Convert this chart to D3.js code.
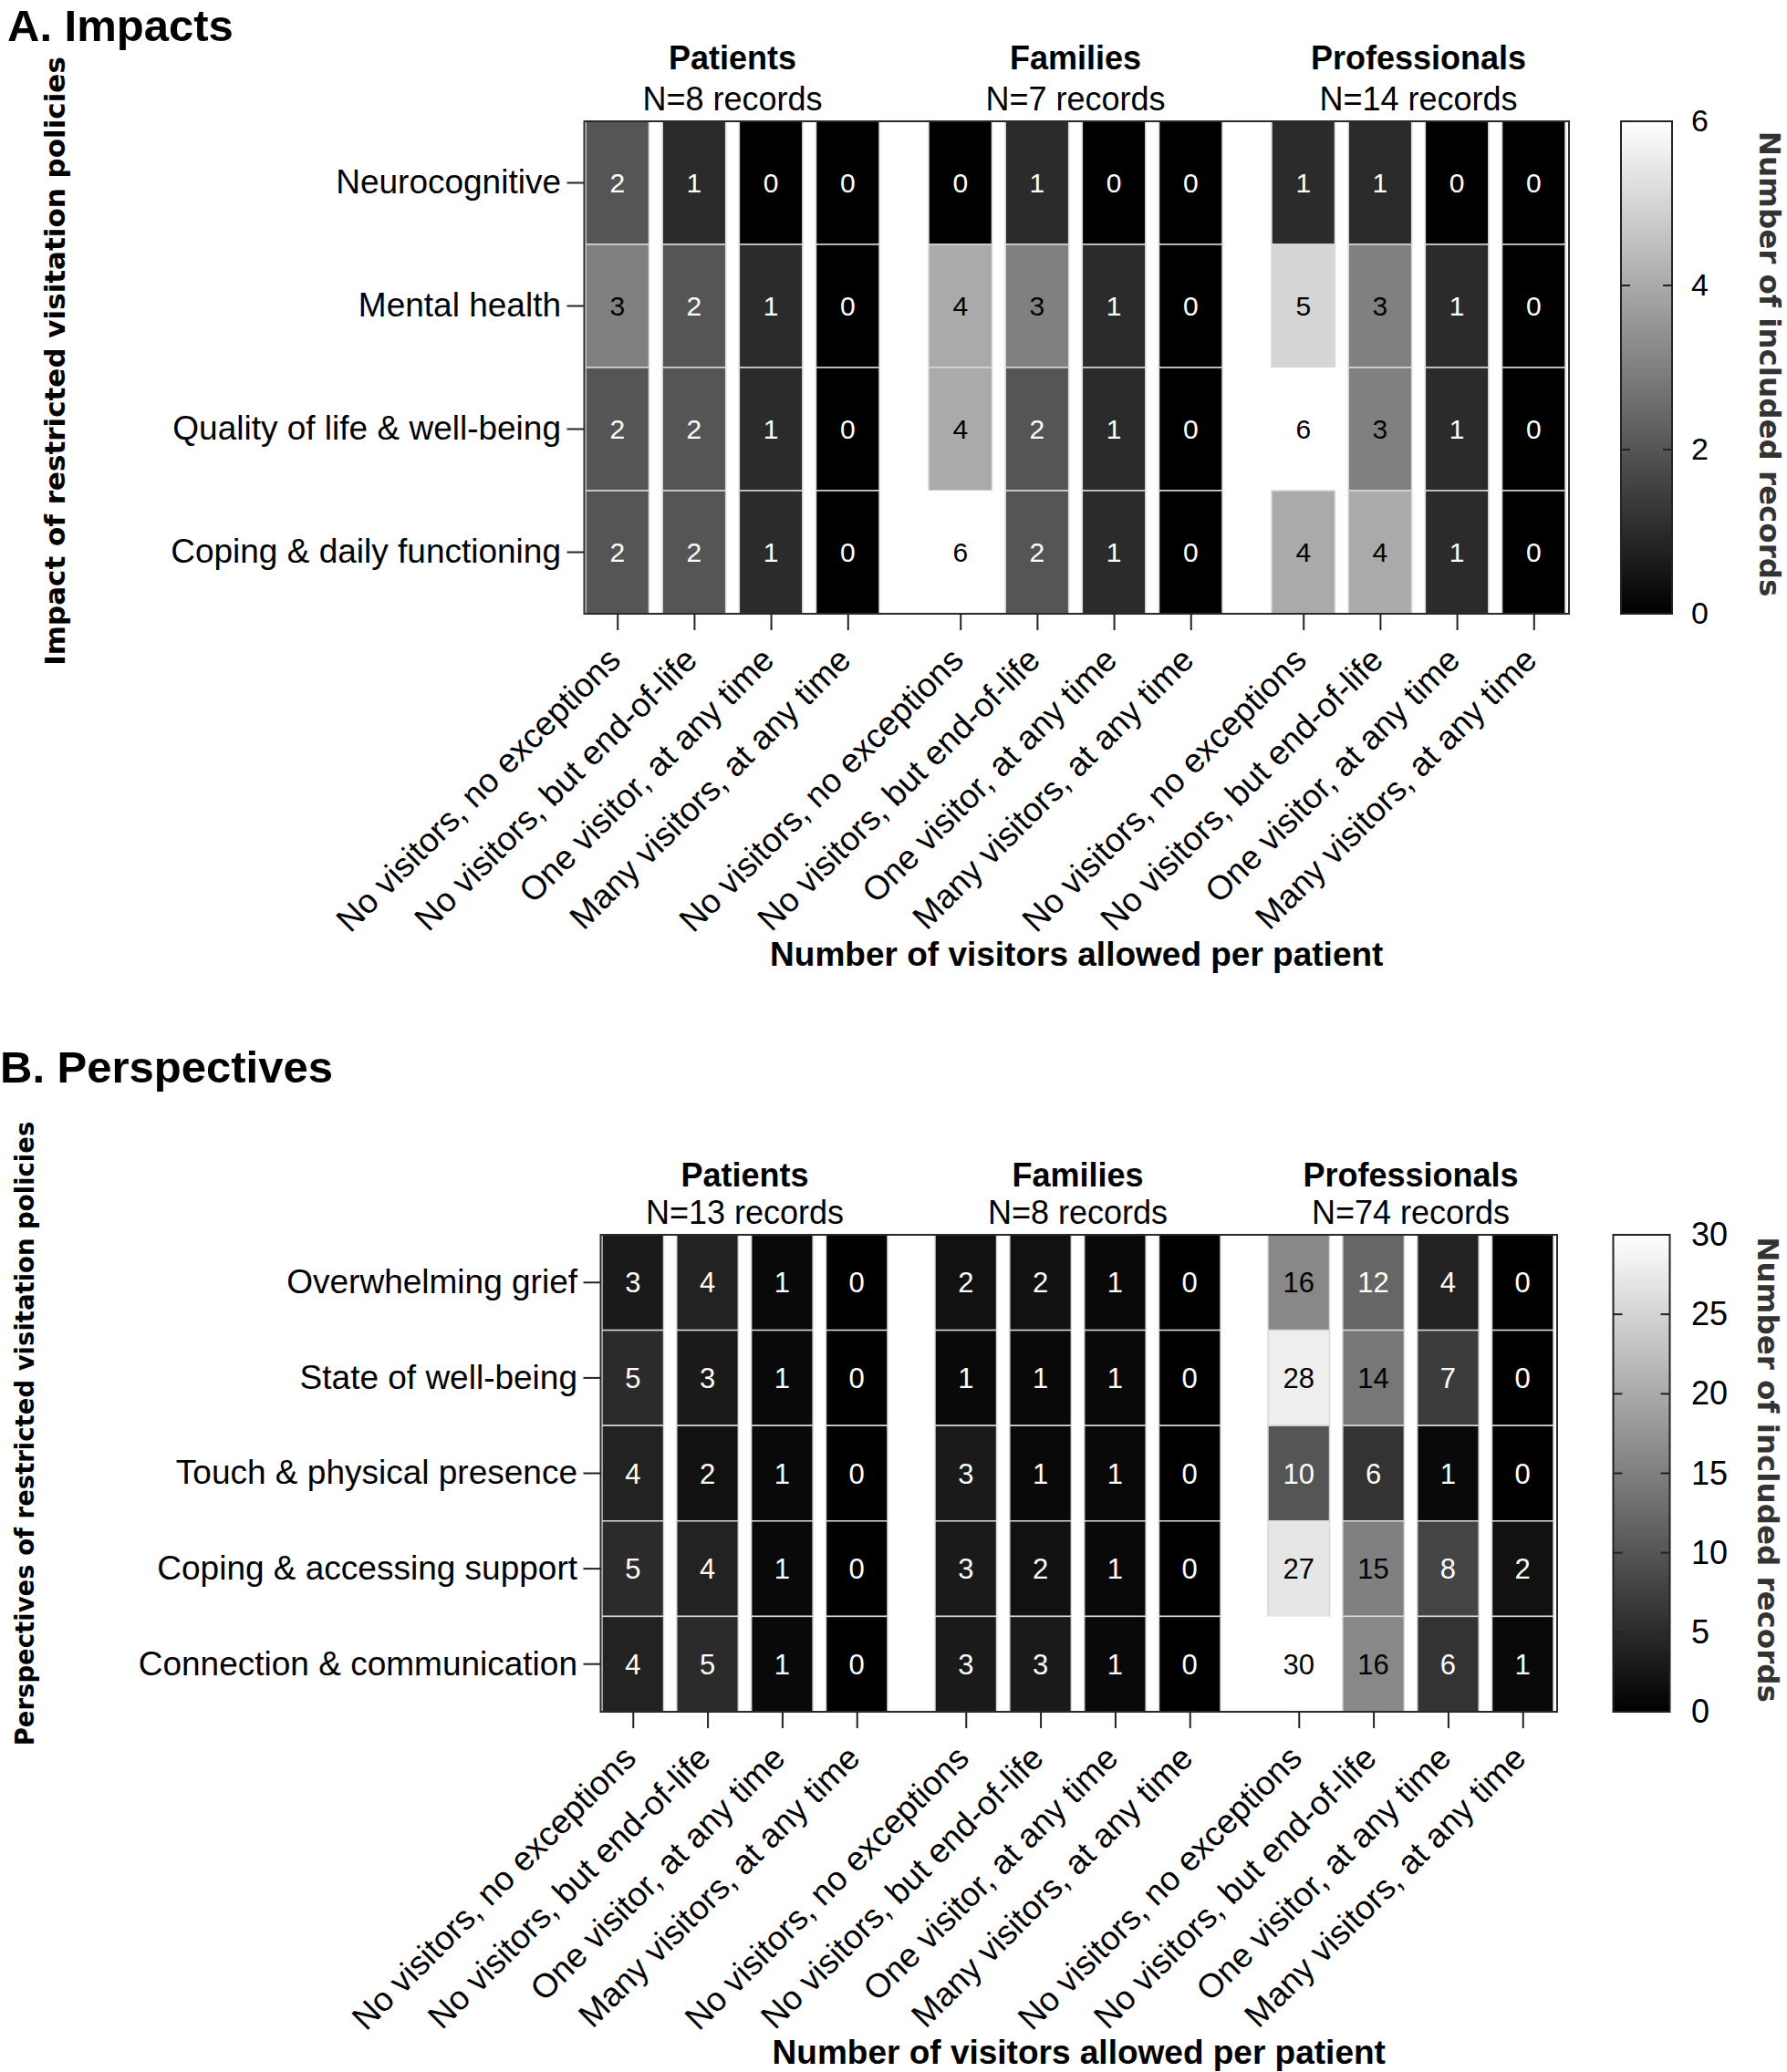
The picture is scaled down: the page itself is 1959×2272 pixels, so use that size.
<!DOCTYPE html>
<html>
<head>
<meta charset="utf-8">
<script src="https://cdn.jsdelivr.net/npm/d3@7"></script>
<style>
  body { margin: 0; background: #fff; }
  text { font-family: "Liberation Sans", Arial, sans-serif; }
</style>
</head>
<body>
<svg id="chart" width="1959" height="2272"></svg>
<script>

// groups and visitor policies (shared by both panels)
const groups = ["Patients", "Families", "Professionals"];
const visitorCats = ["No visitors, no exceptions", "No visitors, but end-of-life",
                     "One visitor, at any time", "Many visitors, at any time"];

// A. Impacts
const impactRows = ["Neurocognitive", "Mental health", "Quality of life & well-being", "Coping & daily functioning"];
const impactRecords = [8, 7, 14];
const impactPatients      = [[2, 1, 0, 0], [3, 2, 1, 0], [2, 2, 1, 0], [2, 2, 1, 0]];
const impactFamilies      = [[0, 1, 0, 0], [4, 3, 1, 0], [4, 2, 1, 0], [6, 2, 1, 0]];
const impactProfessionals = [[1, 1, 0, 0], [5, 3, 1, 0], [6, 3, 1, 0], [4, 4, 1, 0]];
const impactTicks = [0, 2, 4, 6];

// B. Perspectives
const perspRows = ["Overwhelming grief", "State of well-being", "Touch & physical presence",
                   "Coping & accessing support", "Connection & communication"];
const perspRecords = [13, 8, 74];
const perspPatients      = [[3, 4, 1, 0], [5, 3, 1, 0], [4, 2, 1, 0], [5, 4, 1, 0], [4, 5, 1, 0]];
const perspFamilies      = [[2, 2, 1, 0], [1, 1, 1, 0], [3, 1, 1, 0], [3, 2, 1, 0], [3, 3, 1, 0]];
const perspProfessionals = [[16, 12, 4, 0], [28, 14, 7, 0], [10, 6, 1, 0], [27, 15, 8, 2], [30, 16, 6, 1]];
const perspTicks = [0, 5, 10, 15, 20, 25, 30];

const svg = d3.select("#chart");
const titleFont = '"DejaVu Sans", Verdana, sans-serif';

// gradient for the colour bars
const defs = svg.append("defs");
const grad = defs.append("linearGradient").attr("id", "greyGrad")
    .attr("x1", 0).attr("y1", 1).attr("x2", 0).attr("y2", 0);
grad.append("stop").attr("offset", "0%").attr("stop-color", "#000");
grad.append("stop").attr("offset", "100%").attr("stop-color", "#fff");

function drawPanel(p) {
  const g = svg.append("g");

  const outer = d3.scaleBand().domain(groups).range([p.x0, p.x1]).paddingInner(p.groupPad);
  const inner = d3.scaleBand().domain(visitorCats).range([0, outer.bandwidth()]).paddingInner(0.175);
  const y = d3.scaleBand().domain(p.rows).range([p.top, p.bottom]);
  const color = d3.scaleLinear().domain([0, p.max]).range(["#000", "#fff"]);

  // flat list of cells
  let cells = [];
  groups.forEach((grp, gi) => {
    p.values[gi].forEach((row, ri) => {
      row.forEach((v, ci) => {
        cells.push({grp: grp, row: p.rows[ri], cat: visitorCats[ci], v: v});
      });
    });
  });
  const cx = d => outer(d.grp) + inner(d.cat);

  g.selectAll(".cell")
    .data(cells)
    .enter()
    .append("rect")
      .attr("x", cx)
      .attr("y", d => y(d.row))
      .attr("width", inner.bandwidth())
      .attr("height", y.bandwidth())
      .style("fill", d => color(d.v))
      .style("stroke", d => d.v === p.max ? "none" : "#d8d8d8")
      .style("stroke-width", 1.5);

  g.selectAll(".val")
    .data(cells)
    .enter()
    .append("text")
      .attr("x", d => cx(d) + inner.bandwidth() / 2)
      .attr("y", d => y(d.row) + y.bandwidth() / 2)
      .attr("dy", "0.36em")
      .attr("text-anchor", "middle")
      .attr("font-size", p.valSize)
      .style("fill", d => d.v / p.max > 0.45 ? "#000" : "#fff")
      .text(d => d.v);

  // frame
  g.append("rect")
      .attr("x", p.boxL).attr("y", p.top)
      .attr("width", p.boxR - p.boxL).attr("height", p.bottom - p.top)
      .style("fill", "none").style("stroke", "#2a2a2a").style("stroke-width", 2);

  // y axis
  const gY = g.append("g")
      .attr("transform", "translate(" + p.boxL + ",0)")
      .call(d3.axisLeft(y).tickSize(19).tickPadding(6.5));
  gY.select(".domain").remove();
  gY.selectAll("line").style("stroke", "#222").style("stroke-width", 2);
  gY.selectAll("text").attr("font-size", 37).attr("fill", "#000")
      .style("font-family", '"Liberation Sans", Arial, sans-serif');

  // x axis, one tick per group/policy column
  const keys = [];
  groups.forEach(grp => visitorCats.forEach(cat => keys.push(grp + "|" + cat)));
  const xKey = d3.scaleOrdinal()
      .domain(keys)
      .range(keys.map(k => { const s = k.split("|"); return outer(s[0]) + inner(s[1]) + inner.bandwidth() / 2; }));
  const gX = g.append("g")
      .attr("transform", "translate(0," + p.bottom + ")")
      .call(d3.axisBottom(xKey).tickSize(18).tickFormat(k => k.split("|")[1]));
  gX.select(".domain").remove();
  gX.selectAll("line").style("stroke", "#222").style("stroke-width", 2);
  gX.selectAll("text")
      .attr("x", 0).attr("y", 0).attr("dy", 0)
      .attr("text-anchor", "end")
      .attr("transform", "translate(5,53) rotate(-45)")
      .attr("font-size", 37).attr("fill", "#000")
      .style("font-family", '"Liberation Sans", Arial, sans-serif');

  // group headers
  g.selectAll(".grpName")
    .data(groups)
    .enter()
    .append("text")
      .attr("x", d => outer(d) + outer.bandwidth() / 2)
      .attr("y", p.headY1)
      .attr("text-anchor", "middle")
      .attr("font-size", 36)
      .attr("font-weight", "bold")
      .text(d => d);
  g.selectAll(".grpN")
    .data(groups)
    .enter()
    .append("text")
      .attr("x", d => outer(d) + outer.bandwidth() / 2)
      .attr("y", p.headY2)
      .attr("text-anchor", "middle")
      .attr("font-size", 36)
      .text((d, i) => "N=" + p.records[i] + " records");

  // panel title
  g.append("text")
      .attr("x", p.titleX).attr("y", p.titleY)
      .attr("font-size", 49).attr("font-weight", "bold")
      .text(p.title);

  // axis titles
  g.append("text")
      .attr("transform", "translate(" + ((p.boxL + p.boxR) / 2) + "," + (p.bottom + 386) + ")")
      .attr("text-anchor", "middle")
      .attr("font-size", 37).attr("font-weight", "bold")
      .text("Number of visitors allowed per patient");

  g.append("text")
      .attr("transform", "translate(" + p.yTitleX + "," + p.yTitleY + ") rotate(-90)")
      .attr("text-anchor", "middle")
      .attr("font-size", p.yTitleSize).attr("font-weight", "bold")
      .style("font-family", titleFont)
      .text(p.yTitle);

  // colour bar
  const cb = d3.scaleLinear().domain([0, p.max]).range([p.bottom, p.top]);
  g.append("rect")
      .attr("x", p.cbX).attr("y", p.top)
      .attr("width", p.cbW).attr("height", p.bottom - p.top)
      .style("fill", "url(#greyGrad)")
      .style("stroke", "#222").style("stroke-width", 2);

  const innerTicks = p.ticks.slice(1, -1);
  g.selectAll(".cbTickL")
    .data(innerTicks)
    .enter()
    .append("line")
      .attr("x1", p.cbX).attr("x2", p.cbX + 10)
      .attr("y1", d => cb(d)).attr("y2", d => cb(d))
      .style("stroke", "#222").style("stroke-width", 2);
  g.selectAll(".cbTickR")
    .data(innerTicks)
    .enter()
    .append("line")
      .attr("x1", p.cbX + p.cbW - 10).attr("x2", p.cbX + p.cbW)
      .attr("y1", d => cb(d)).attr("y2", d => cb(d))
      .style("stroke", "#222").style("stroke-width", 2);

  const gC = g.append("g")
      .attr("transform", "translate(" + (p.cbX + p.cbW) + ",0)")
      .call(d3.axisRight(cb).tickValues(p.ticks).tickFormat(d3.format("d"))
              .tickSize(0).tickPadding(1854 - p.cbX - p.cbW));
  gC.select(".domain").remove();
  gC.selectAll("text").attr("font-size", p.cbLabelSize).attr("fill", "#000")
      .style("font-family", '"Liberation Sans", Arial, sans-serif');

  g.append("text")
      .attr("transform", "translate(" + p.cbTitleX + "," + ((p.top + p.bottom) / 2 - 4) + ") rotate(90)")
      .attr("text-anchor", "middle")
      .attr("font-size", 32.5).attr("font-weight", "bold")
      .style("font-family", titleFont)
      .style("fill", "#333")
      .text("Number of included records");
}

drawPanel({
  title: "A. Impacts", titleX: 8, titleY: 45,
  rows: impactRows, records: impactRecords,
  values: [impactPatients, impactFamilies, impactProfessionals],
  max: 6, ticks: impactTicks,
  boxL: 640.5, boxR: 1720, top: 133, bottom: 673,
  x0: 642, x1: 1716, groupPad: 0.1436,
  headY1: 76, headY2: 121,
  valSize: 30,
  yTitle: "Impact of restricted visitation policies", yTitleX: 71, yTitleY: 396, yTitleSize: 31,
  cbX: 1777, cbW: 56, cbTitleX: 1929, cbLabelSize: 34
});

drawPanel({
  title: "B. Perspectives", titleX: 0, titleY: 1187,
  rows: perspRows, records: perspRecords,
  values: [perspPatients, perspFamilies, perspProfessionals],
  max: 30, ticks: perspTicks,
  boxL: 658.5, boxR: 1707, top: 1354, bottom: 1877,
  x0: 660, x1: 1703, groupPad: 0.1425,
  headY1: 1301, headY2: 1342,
  valSize: 31,
  yTitle: "Perspectives of restricted visitation policies", yTitleX: 37, yTitleY: 1572, yTitleSize: 27.5,
  cbX: 1768.5, cbW: 62, cbTitleX: 1927, cbLabelSize: 36
});

</script>
</body>
</html>
